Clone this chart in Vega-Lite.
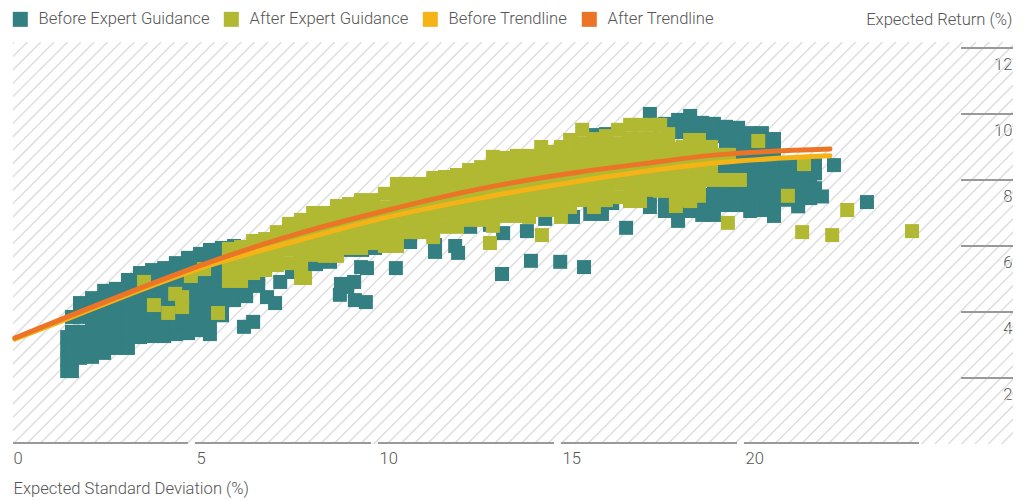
{"$schema":"https://vega.github.io/schema/vega-lite/v6.json","autosize":"none","width":1000,"height":402,"padding":{"left":13,"top":42,"right":16,"bottom":57},"background":"white",
"config":{"view":{"stroke":null},"font":"Roboto"},
"datasets":{
"hatch":[{"x0":-10.95,"x1":0.03},{"x0":-10.585,"x1":0.395},{"x0":-10.22,"x1":0.76},{"x0":-9.855,"x1":1.125},{"x0":-9.49,"x1":1.49},{"x0":-9.125,"x1":1.855},{"x0":-8.76,"x1":2.22},{"x0":-8.395,"x1":2.585},{"x0":-8.03,"x1":2.95},{"x0":-7.665,"x1":3.315},{"x0":-7.3,"x1":3.68},{"x0":-6.935,"x1":4.045},{"x0":-6.57,"x1":4.41},{"x0":-6.205,"x1":4.775},{"x0":-5.84,"x1":5.14},{"x0":-5.475,"x1":5.505},{"x0":-5.11,"x1":5.87},{"x0":-4.745,"x1":6.235},{"x0":-4.38,"x1":6.6},{"x0":-4.015,"x1":6.965},{"x0":-3.65,"x1":7.33},{"x0":-3.285,"x1":7.695},{"x0":-2.92,"x1":8.06},{"x0":-2.555,"x1":8.425},{"x0":-2.19,"x1":8.79},{"x0":-1.825,"x1":9.155},{"x0":-1.46,"x1":9.52},{"x0":-1.095,"x1":9.885},{"x0":-0.73,"x1":10.25},{"x0":-0.365,"x1":10.615},{"x0":0,"x1":10.98},{"x0":0.365,"x1":11.345},{"x0":0.73,"x1":11.71},{"x0":1.095,"x1":12.075},{"x0":1.46,"x1":12.44},{"x0":1.825,"x1":12.805},{"x0":2.19,"x1":13.17},{"x0":2.555,"x1":13.535},{"x0":2.92,"x1":13.9},{"x0":3.285,"x1":14.265},{"x0":3.65,"x1":14.63},{"x0":4.015,"x1":14.995},{"x0":4.38,"x1":15.36},{"x0":4.745,"x1":15.725},{"x0":5.11,"x1":16.09},{"x0":5.475,"x1":16.455},{"x0":5.84,"x1":16.82},{"x0":6.205,"x1":17.185},{"x0":6.57,"x1":17.55},{"x0":6.935,"x1":17.915},{"x0":7.3,"x1":18.28},{"x0":7.665,"x1":18.645},{"x0":8.03,"x1":19.01},{"x0":8.395,"x1":19.375},{"x0":8.76,"x1":19.74},{"x0":9.125,"x1":20.105},{"x0":9.49,"x1":20.47},{"x0":9.855,"x1":20.835},{"x0":10.22,"x1":21.2},{"x0":10.585,"x1":21.565},{"x0":10.95,"x1":21.93},{"x0":11.315,"x1":22.295},{"x0":11.68,"x1":22.66},{"x0":12.045,"x1":23.025},{"x0":12.41,"x1":23.39},{"x0":12.775,"x1":23.755},{"x0":13.14,"x1":24.12},{"x0":13.505,"x1":24.485},{"x0":13.87,"x1":24.85},{"x0":14.235,"x1":25.215},{"x0":14.6,"x1":25.58},{"x0":14.965,"x1":25.945},{"x0":15.33,"x1":26.31},{"x0":15.695,"x1":26.675},{"x0":16.06,"x1":27.04},{"x0":16.425,"x1":27.405},{"x0":16.79,"x1":27.77},{"x0":17.155,"x1":28.135},{"x0":17.52,"x1":28.5},{"x0":17.885,"x1":28.865},{"x0":18.25,"x1":29.23},{"x0":18.615,"x1":29.595},{"x0":18.98,"x1":29.96},{"x0":19.345,"x1":30.325},{"x0":19.71,"x1":30.69},{"x0":20.075,"x1":31.055},{"x0":20.44,"x1":31.42},{"x0":20.805,"x1":31.785},{"x0":21.17,"x1":32.15},{"x0":21.535,"x1":32.515},{"x0":21.9,"x1":32.88},{"x0":22.265,"x1":33.245},{"x0":22.63,"x1":33.61},{"x0":22.995,"x1":33.975},{"x0":23.36,"x1":34.34},{"x0":23.725,"x1":34.705},{"x0":24.09,"x1":35.07},{"x0":24.455,"x1":35.435},{"x0":24.82,"x1":35.8},{"x0":25.185,"x1":36.165},{"x0":25.55,"x1":36.53},{"x0":25.915,"x1":36.895},{"x0":26.28,"x1":37.26},{"x0":26.645,"x1":37.625},{"x0":27.01,"x1":37.99}],
"xRules":[{"a":0,"b":4.78},{"a":4.97,"b":9.78},{"a":9.97,"b":14.78},{"a":14.97,"b":19.78},{"a":19.97,"b":24.75}],
"yRules":[{"y":2},{"y":4},{"y":6},{"y":8},{"y":10},{"y":12}],
"before":[
{"x":1.48,"y":2.21},{"x":1.48,"y":2.55},{"x":1.48,"y":2.9},{"x":1.48,"y":3.24},
{"x":1.61,"y":2.21},{"x":1.61,"y":2.6},{"x":1.61,"y":3.0},{"x":1.61,"y":3.4},{"x":1.61,"y":3.85},
{"x":1.83,"y":2.61},{"x":1.83,"y":3.0},{"x":1.83,"y":3.4},{"x":1.83,"y":3.85},{"x":1.83,"y":4.27},
{"x":2.16,"y":2.64},{"x":2.16,"y":3.0},{"x":2.16,"y":3.4},{"x":2.16,"y":3.8},{"x":2.16,"y":4.1},{"x":2.16,"y":4.42},
{"x":2.49,"y":2.76},{"x":2.49,"y":3.15},{"x":2.49,"y":3.5},{"x":2.49,"y":3.9},{"x":2.49,"y":4.3},{"x":2.49,"y":4.64},
{"x":2.81,"y":2.91},{"x":2.81,"y":3.3},{"x":2.81,"y":3.65},{"x":2.81,"y":4.0},{"x":2.81,"y":4.35},{"x":2.81,"y":4.7},
{"x":3.14,"y":2.91},{"x":3.14,"y":3.3},{"x":3.14,"y":3.65},{"x":3.14,"y":4.0},{"x":3.14,"y":4.35},{"x":3.14,"y":4.7},{"x":3.14,"y":4.97},
{"x":3.47,"y":3.24},{"x":3.47,"y":3.6},{"x":3.47,"y":3.95},{"x":3.47,"y":4.3},{"x":3.47,"y":4.65},{"x":3.47,"y":4.95},{"x":3.47,"y":5.18},
{"x":3.8,"y":3.27},{"x":3.8,"y":3.6},{"x":3.8,"y":3.95},{"x":3.8,"y":4.3},{"x":3.8,"y":4.65},{"x":3.8,"y":4.95},{"x":3.8,"y":5.27},
{"x":4.13,"y":3.27},{"x":4.13,"y":3.6},{"x":4.13,"y":3.95},{"x":4.13,"y":4.3},{"x":4.13,"y":4.65},{"x":4.13,"y":5.0},{"x":4.13,"y":5.33},
{"x":4.45,"y":3.33},{"x":4.45,"y":3.7},{"x":4.45,"y":4.05},{"x":4.45,"y":4.4},{"x":4.45,"y":4.75},{"x":4.45,"y":5.1},{"x":4.45,"y":5.48},
{"x":4.78,"y":3.36},{"x":4.78,"y":3.7},{"x":4.78,"y":4.05},{"x":4.78,"y":4.4},{"x":4.78,"y":4.75},{"x":4.78,"y":5.1},{"x":4.78,"y":5.4},{"x":4.78,"y":5.64},
{"x":5.11,"y":3.45},{"x":5.11,"y":3.8},{"x":5.11,"y":4.15},{"x":5.11,"y":4.5},{"x":5.11,"y":4.85},{"x":5.11,"y":5.2},{"x":5.11,"y":5.5},{"x":5.11,"y":5.76},
{"x":5.38,"y":3.33},{"x":5.38,"y":3.7},{"x":5.38,"y":4.05},{"x":5.38,"y":4.4},{"x":5.38,"y":4.75},{"x":5.38,"y":5.1},{"x":5.38,"y":5.5},{"x":5.38,"y":5.88},
{"x":5.71,"y":3.9},{"x":5.71,"y":4.25},{"x":5.71,"y":4.6},{"x":5.71,"y":4.95},{"x":5.71,"y":5.3},{"x":5.71,"y":5.6},{"x":5.71,"y":5.94},
{"x":6.04,"y":4.36},{"x":6.04,"y":4.75},{"x":6.04,"y":5.1},{"x":6.04,"y":5.45},{"x":6.04,"y":5.8},{"x":6.04,"y":6.0},
{"x":6.37,"y":4.48},{"x":6.37,"y":4.85},{"x":6.37,"y":5.2},{"x":6.37,"y":5.55},{"x":6.37,"y":5.9},
{"x":6.7,"y":4.79},{"x":6.7,"y":5.1},{"x":6.7,"y":5.5},{"x":6.7,"y":5.9},
{"x":6.31,"y":3.55},{"x":6.56,"y":3.7},{"x":6.94,"y":4.45},{"x":7.16,"y":4.27},{"x":7.3,"y":4.91},{"x":7.62,"y":5.21},{"x":7.95,"y":5.33},{"x":8.28,"y":5.45},{"x":8.66,"y":5.52},
{"x":8.93,"y":4.52},{"x":9.13,"y":4.76},{"x":9.32,"y":4.91},{"x":9.34,"y":4.36},{"x":9.64,"y":4.3},{"x":8.96,"y":4.85},
{"x":9.21,"y":5.88},{"x":9.54,"y":5.88},{"x":9.89,"y":5.94},{"x":9.51,"y":5.36},{"x":9.67,"y":5.33},{"x":10.46,"y":5.33},{"x":10.85,"y":6.12},{"x":11.53,"y":5.82},{"x":11.53,"y":6.03},{"x":12.16,"y":5.79},{"x":12.08,"y":6.0},{"x":12.49,"y":6.58},{"x":13.03,"y":6.64},{"x":13.39,"y":6.39},{"x":13.36,"y":5.15},
{"x":14.04,"y":6.45},{"x":14.15,"y":5.55},{"x":14.54,"y":6.82},{"x":14.95,"y":5.52},{"x":15.3,"y":6.88},{"x":15.6,"y":5.36},{"x":15.77,"y":6.97},{"x":16.09,"y":6.97},{"x":16.37,"y":7.3},{"x":16.75,"y":6.55},{"x":16.86,"y":7.39},{"x":15.87,"y":9.36},{"x":16.2,"y":9.39},
{"x":17.4,"y":10.0},{"x":17.4,"y":7.5},{"x":17.4,"y":7.18},{"x":17.81,"y":9.7},{"x":17.81,"y":7.4},{"x":17.81,"y":7.06},
{"x":18.17,"y":9.82},{"x":18.17,"y":9.45},{"x":18.17,"y":7.4},{"x":18.17,"y":7.06},{"x":18.17,"y":6.76},
{"x":18.5,"y":9.94},{"x":18.5,"y":9.58},{"x":18.5,"y":9.21},{"x":18.5,"y":7.4},{"x":18.5,"y":7.06},
{"x":18.83,"y":9.73},{"x":18.83,"y":9.36},{"x":18.83,"y":7.55},{"x":18.83,"y":7.24},{"x":18.83,"y":6.94},
{"x":19.15,"y":9.7},{"x":19.15,"y":9.33},{"x":19.15,"y":8.6},{"x":19.15,"y":8.3},{"x":19.15,"y":8.0},{"x":19.15,"y":7.8},{"x":19.15,"y":7.55},{"x":19.15,"y":7.24},{"x":19.15,"y":6.94},
{"x":19.48,"y":9.61},{"x":19.48,"y":9.24},{"x":19.48,"y":8.88},{"x":19.48,"y":8.52},{"x":19.48,"y":8.15},{"x":19.48,"y":7.79},{"x":19.48,"y":7.42},{"x":19.48,"y":7.24},
{"x":19.81,"y":9.58},{"x":19.81,"y":9.2},{"x":19.81,"y":8.85},{"x":19.81,"y":8.5},{"x":19.81,"y":8.15},{"x":19.81,"y":7.79},{"x":19.81,"y":7.42},{"x":19.81,"y":7.24},
{"x":20.14,"y":9.42},{"x":20.14,"y":9.06},{"x":20.14,"y":8.7},{"x":20.14,"y":8.34},{"x":20.14,"y":7.98},{"x":20.14,"y":7.62},{"x":20.14,"y":7.26},{"x":20.14,"y":7.06},
{"x":20.46,"y":9.42},{"x":20.46,"y":9.06},{"x":20.46,"y":8.7},{"x":20.46,"y":8.34},{"x":20.46,"y":7.98},{"x":20.46,"y":7.62},{"x":20.46,"y":7.26},{"x":20.46,"y":7.09},
{"x":20.79,"y":9.24},{"x":20.79,"y":8.9},{"x":20.79,"y":8.55},{"x":20.79,"y":8.2},{"x":20.79,"y":7.85},{"x":20.79,"y":7.5},{"x":20.79,"y":7.15},{"x":20.79,"y":6.91},
{"x":21.12,"y":8.45},{"x":21.12,"y":8.1},{"x":21.12,"y":7.75},{"x":21.12,"y":7.4},
{"x":21.45,"y":8.45},{"x":21.45,"y":8.1},{"x":21.45,"y":7.75},{"x":21.45,"y":7.4},{"x":21.45,"y":7.2},
{"x":21.78,"y":8.45},{"x":21.78,"y":8.1},{"x":21.78,"y":7.75},{"x":21.78,"y":7.45},
{"x":21.91,"y":8.45},{"x":21.91,"y":8.2},{"x":21.91,"y":7.75},{"x":22.1,"y":7.5},
{"x":22.43,"y":8.45},{"x":23.33,"y":7.33}
],
"after":[
{"x":3.58,"y":4.91},{"x":3.85,"y":4.21},{"x":4.43,"y":4.55},{"x":4.62,"y":4.45},{"x":4.24,"y":3.97},{"x":4.62,"y":4.15},{"x":5.6,"y":3.97},{"x":5.22,"y":5.3},{"x":4.86,"y":5.09},
{"x":5.9,"y":5.91},{"x":5.9,"y":5.55},{"x":5.9,"y":5.25},{"x":5.9,"y":4.94},
{"x":6.23,"y":5.97},{"x":6.23,"y":5.6},{"x":6.23,"y":5.25},{"x":6.23,"y":4.94},
{"x":6.56,"y":6.15},{"x":6.56,"y":5.8},{"x":6.56,"y":5.5},{"x":6.56,"y":5.18},
{"x":6.89,"y":6.21},{"x":6.89,"y":5.9},{"x":6.89,"y":5.6},{"x":6.89,"y":5.27},
{"x":7.21,"y":6.42},{"x":7.21,"y":6.1},{"x":7.21,"y":5.75},{"x":7.21,"y":5.42},
{"x":7.54,"y":6.67},{"x":7.54,"y":6.3},{"x":7.54,"y":5.9},{"x":7.54,"y":5.48},
{"x":7.87,"y":6.79},{"x":7.87,"y":6.4},{"x":7.87,"y":6.05},{"x":7.87,"y":5.7},{"x":7.87,"y":5.35},{"x":7.87,"y":5.03},
{"x":8.2,"y":7.0},{"x":8.2,"y":6.6},{"x":8.2,"y":6.2},{"x":8.2,"y":5.95},{"x":8.2,"y":5.73},
{"x":8.52,"y":7.0},{"x":8.52,"y":6.6},{"x":8.52,"y":6.38},{"x":8.52,"y":6.15},{"x":8.52,"y":5.93},{"x":8.52,"y":5.7},
{"x":8.85,"y":7.21},{"x":8.85,"y":6.8},{"x":8.85,"y":6.4},{"x":8.85,"y":6.05},{"x":8.85,"y":5.7},
{"x":9.18,"y":7.27},{"x":9.18,"y":7.06},{"x":9.18,"y":6.85},{"x":9.18,"y":6.63},{"x":9.18,"y":6.4},{"x":9.18,"y":6.17},{"x":9.18,"y":5.94},
{"x":9.51,"y":7.39},{"x":9.51,"y":7.0},{"x":9.51,"y":6.6},{"x":9.51,"y":6.25},{"x":9.51,"y":5.94},
{"x":9.84,"y":7.39},{"x":9.84,"y":7.0},{"x":9.84,"y":6.6},{"x":9.84,"y":6.35},{"x":9.84,"y":6.09},
{"x":10.16,"y":7.58},{"x":10.16,"y":7.15},{"x":10.16,"y":6.75},{"x":10.16,"y":6.35},{"x":10.16,"y":6.0},
{"x":10.49,"y":7.88},{"x":10.49,"y":7.5},{"x":10.49,"y":7.1},{"x":10.49,"y":6.7},{"x":10.49,"y":6.35},{"x":10.49,"y":6.0},
{"x":10.82,"y":7.88},{"x":10.82,"y":7.5},{"x":10.82,"y":7.1},{"x":10.82,"y":6.75},{"x":10.82,"y":6.42},
{"x":11.15,"y":7.88},{"x":11.15,"y":7.5},{"x":11.15,"y":7.1},{"x":11.15,"y":6.75},{"x":11.15,"y":6.42},
{"x":11.48,"y":8.06},{"x":11.48,"y":7.7},{"x":11.48,"y":7.35},{"x":11.48,"y":7.0},{"x":11.48,"y":6.65},{"x":11.48,"y":6.27},
{"x":11.8,"y":8.09},{"x":11.8,"y":7.7},{"x":11.8,"y":7.35},{"x":11.8,"y":7.0},{"x":11.8,"y":6.58},
{"x":12.13,"y":8.15},{"x":12.13,"y":7.75},{"x":12.13,"y":7.35},{"x":12.13,"y":6.95},{"x":12.13,"y":6.58},
{"x":12.46,"y":8.3},{"x":12.46,"y":7.95},{"x":12.46,"y":7.55},{"x":12.46,"y":7.15},{"x":12.46,"y":6.79},
{"x":12.79,"y":8.39},{"x":12.79,"y":8.0},{"x":12.79,"y":7.6},{"x":12.79,"y":7.2},{"x":12.79,"y":6.79},
{"x":13.11,"y":8.7},{"x":13.11,"y":8.3},{"x":13.11,"y":7.9},{"x":13.11,"y":7.5},{"x":13.11,"y":7.27},{"x":13.11,"y":7.05},{"x":13.11,"y":6.83},{"x":13.11,"y":6.61},
{"x":13.44,"y":8.67},{"x":13.44,"y":8.3},{"x":13.44,"y":7.9},{"x":13.44,"y":7.5},{"x":13.44,"y":7.2},{"x":13.44,"y":6.91},
{"x":13.77,"y":8.73},{"x":13.77,"y":8.35},{"x":13.77,"y":7.95},{"x":13.77,"y":7.6},{"x":13.77,"y":7.25},{"x":13.77,"y":6.91},
{"x":14.1,"y":8.73},{"x":14.1,"y":8.35},{"x":14.1,"y":8.0},{"x":14.1,"y":7.6},{"x":14.1,"y":7.25},{"x":14.1,"y":6.88},
{"x":14.43,"y":9.0},{"x":14.43,"y":8.6},{"x":14.43,"y":8.2},{"x":14.43,"y":7.8},{"x":14.43,"y":7.45},{"x":14.43,"y":7.09},
{"x":14.75,"y":8.85},{"x":14.75,"y":8.45},{"x":14.75,"y":8.05},{"x":14.75,"y":7.65},{"x":14.75,"y":7.3},{"x":14.75,"y":7.09},
{"x":14.97,"y":9.0},{"x":14.97,"y":8.6},{"x":14.97,"y":8.25},{"x":14.97,"y":7.9},{"x":14.97,"y":7.55},{"x":14.97,"y":7.2},{"x":14.97,"y":6.88},
{"x":15.22,"y":9.21},{"x":15.22,"y":8.8},{"x":15.22,"y":8.4},{"x":15.22,"y":8.0},{"x":15.22,"y":7.6},{"x":15.22,"y":7.4},{"x":15.22,"y":7.18},
{"x":15.55,"y":9.52},{"x":15.55,"y":9.1},{"x":15.55,"y":8.7},{"x":15.55,"y":8.3},{"x":15.55,"y":7.9},{"x":15.55,"y":7.65},{"x":15.55,"y":7.39},
{"x":15.87,"y":9.24},{"x":15.87,"y":8.85},{"x":15.87,"y":8.45},{"x":15.87,"y":8.05},{"x":15.87,"y":7.83},{"x":15.87,"y":7.6},{"x":15.87,"y":7.4},{"x":15.87,"y":7.18},
{"x":16.2,"y":9.33},{"x":16.2,"y":8.95},{"x":16.2,"y":8.55},{"x":16.2,"y":8.15},{"x":16.2,"y":7.75},{"x":16.2,"y":7.39},
{"x":16.53,"y":9.52},{"x":16.53,"y":9.1},{"x":16.53,"y":8.7},{"x":16.53,"y":8.3},{"x":16.53,"y":7.9},{"x":16.53,"y":7.48},
{"x":16.86,"y":9.67},{"x":16.86,"y":9.25},{"x":16.86,"y":8.85},{"x":16.86,"y":8.45},{"x":16.86,"y":8.05},{"x":16.86,"y":7.7},{"x":16.86,"y":7.36},
{"x":17.13,"y":9.67},{"x":17.13,"y":9.25},{"x":17.13,"y":8.85},{"x":17.13,"y":8.45},{"x":17.13,"y":8.05},{"x":17.13,"y":7.7},{"x":17.13,"y":7.36},
{"x":17.46,"y":9.67},{"x":17.46,"y":9.25},{"x":17.46,"y":8.85},{"x":17.46,"y":8.45},{"x":17.46,"y":8.05},{"x":17.46,"y":7.7},
{"x":17.68,"y":9.67},{"x":17.68,"y":9.25},{"x":17.68,"y":8.85},{"x":17.68,"y":8.45},{"x":17.68,"y":8.05},{"x":17.68,"y":7.67},
{"x":17.9,"y":9.39},{"x":17.9,"y":9.0},{"x":17.9,"y":8.6},{"x":17.9,"y":8.2},{"x":17.9,"y":7.9},{"x":17.9,"y":7.67},
{"x":18.11,"y":8.94},{"x":18.11,"y":8.55},{"x":18.11,"y":8.15},{"x":18.11,"y":7.75},{"x":18.11,"y":7.48},{"x":18.11,"y":7.21},
{"x":18.3,"y":9.0},{"x":18.3,"y":8.6},{"x":18.3,"y":8.2},{"x":18.3,"y":7.8},{"x":18.3,"y":7.4},
{"x":18.5,"y":9.21},{"x":18.5,"y":8.85},{"x":18.5,"y":8.45},{"x":18.5,"y":8.05},{"x":18.5,"y":7.7},{"x":18.5,"y":7.36},
{"x":18.74,"y":9.21},{"x":18.74,"y":8.85},{"x":18.74,"y":8.45},{"x":18.74,"y":8.05},{"x":18.74,"y":7.7},{"x":18.74,"y":7.52},
{"x":19.07,"y":9.0},{"x":19.07,"y":8.6},{"x":19.07,"y":8.35},{"x":19.07,"y":8.0},
{"x":19.4,"y":8.76},{"x":19.4,"y":8.0},{"x":19.56,"y":8.76},{"x":19.56,"y":8.0},{"x":19.86,"y":8.0},
{"x":7.98,"y":5.03},{"x":13.03,"y":6.09},{"x":14.45,"y":6.33},{"x":19.53,"y":6.7},{"x":21.17,"y":7.52},{"x":21.61,"y":8.48},{"x":20.36,"y":9.18},{"x":22.79,"y":7.09},{"x":21.56,"y":6.42},{"x":22.38,"y":6.33},{"x":24.56,"y":6.45}
],
"beforeTrend":[{"x":0.05,"y":3.18},{"x":1.48,"y":3.79},{"x":3.28,"y":4.58},{"x":5.3,"y":5.39},{"x":7.84,"y":6.18},{"x":10.03,"y":6.82},{"x":12.76,"y":7.45},{"x":15.48,"y":7.97},{"x":17.13,"y":8.24},{"x":19.23,"y":8.52},{"x":22.32,"y":8.73}],
"afterTrend":[{"x":0.05,"y":3.21},{"x":1.48,"y":3.85},{"x":3.28,"y":4.64},{"x":5.3,"y":5.48},{"x":7.84,"y":6.39},{"x":10.03,"y":7.03},{"x":12.76,"y":7.73},{"x":15.48,"y":8.24},{"x":17.13,"y":8.48},{"x":19.23,"y":8.76},{"x":22.32,"y":8.94}]
},
"layer":[
{"data":{"name":"hatch"},"mark":{"type":"rule","clip":true,"stroke":"#dedede","strokeWidth":1.5},"encoding":{"x":{"field":"x0","type":"quantitative","scale":{"domain":[0,27.32],"nice":false,"zero":false},"axis":{"values":[0,5,10,15,20],"domain":false,"ticks":false,"grid":false,"labelAlign":"left","labelPadding":6,"labelFontSize":16.6,"labelFontWeight":300,"labelColor":"#555","labelFont":"Roboto","labelBaseline":"top","labelOffset":0,"title":"Expected Standard Deviation (%)","titleFontSize":16.6,"titleFontWeight":300,"titleColor":"#555","titleFont":"Roboto","titleAnchor":"start","titleAlign":"left","titleBaseline":"middle","titleX":0,"titleY":44}},"x2":{"field":"x1"},"y":{"datum":0,"type":"quantitative","scale":{"domain":[0,12.18],"nice":false,"zero":false},"axis":{"orient":"right","values":[2,4,6,8,10,12],"domain":false,"ticks":false,"grid":false,"labelAlign":"right","labelBaseline":"middle","labelPadding":-1,"labelOffset":17,"labelFontSize":16.6,"labelFontWeight":300,"labelColor":"#555","labelFont":"Roboto","title":"Expected Return (%)","titleFontSize":16.6,"titleFontWeight":300,"titleColor":"#555","titleFont":"Roboto","titleAngle":0,"titleAlign":"right","titleBaseline":"middle","titleX":-1,"titleY":-23}},"y2":{"datum":12.18}}},
{"data":{"name":"xRules"},"mark":{"type":"rule","stroke":"#999","strokeWidth":2},"encoding":{"x":{"field":"a","type":"quantitative"},"x2":{"field":"b"},"y":{"datum":0.03,"type":"quantitative"}}},
{"data":{"name":"yRules"},"mark":{"type":"rule","stroke":"#999","strokeWidth":2},"encoding":{"x":{"datum":25.9,"type":"quantitative"},"x2":{"datum":27.32},"y":{"field":"y","type":"quantitative"}}},
{"data":{"name":"before"},"mark":{"type":"point","shape":"square","filled":true,"size":196,"opacity":1,"strokeWidth":0},"encoding":{"x":{"field":"x","type":"quantitative"},"y":{"field":"y","type":"quantitative"},"color":{"datum":"Before Expert Guidance","scale":{"domain":["Before Expert Guidance","After Expert Guidance","Before Trendline","After Trendline"],"range":["#337f82","#b0b931","#f4b316","#ec7426"]},"legend":{"orient":"none","legendX":-1,"legendY":-31,"direction":"horizontal","columns":4,"title":null,"symbolType":"square","symbolSize":225,"symbolStrokeWidth":0,"symbolOpacity":1,"labelFontSize":16.6,"labelFontWeight":300,"labelColor":"#555","labelFont":"Roboto","labelLimit":300,"labelOffset":10,"columnPadding":13}}}},
{"data":{"name":"after"},"mark":{"type":"point","shape":"square","filled":true,"size":196,"opacity":1,"strokeWidth":0},"encoding":{"x":{"field":"x","type":"quantitative"},"y":{"field":"y","type":"quantitative"},"color":{"datum":"After Expert Guidance"}}},
{"data":{"name":"beforeTrend"},"mark":{"type":"line","interpolate":"monotone","strokeWidth":5,"strokeCap":"round"},"encoding":{"x":{"field":"x","type":"quantitative"},"y":{"field":"y","type":"quantitative"},"color":{"datum":"Before Trendline"}}},
{"data":{"name":"afterTrend"},"mark":{"type":"line","interpolate":"monotone","strokeWidth":5,"strokeCap":"round"},"encoding":{"x":{"field":"x","type":"quantitative"},"y":{"field":"y","type":"quantitative"},"color":{"datum":"After Trendline"}}}
]}
